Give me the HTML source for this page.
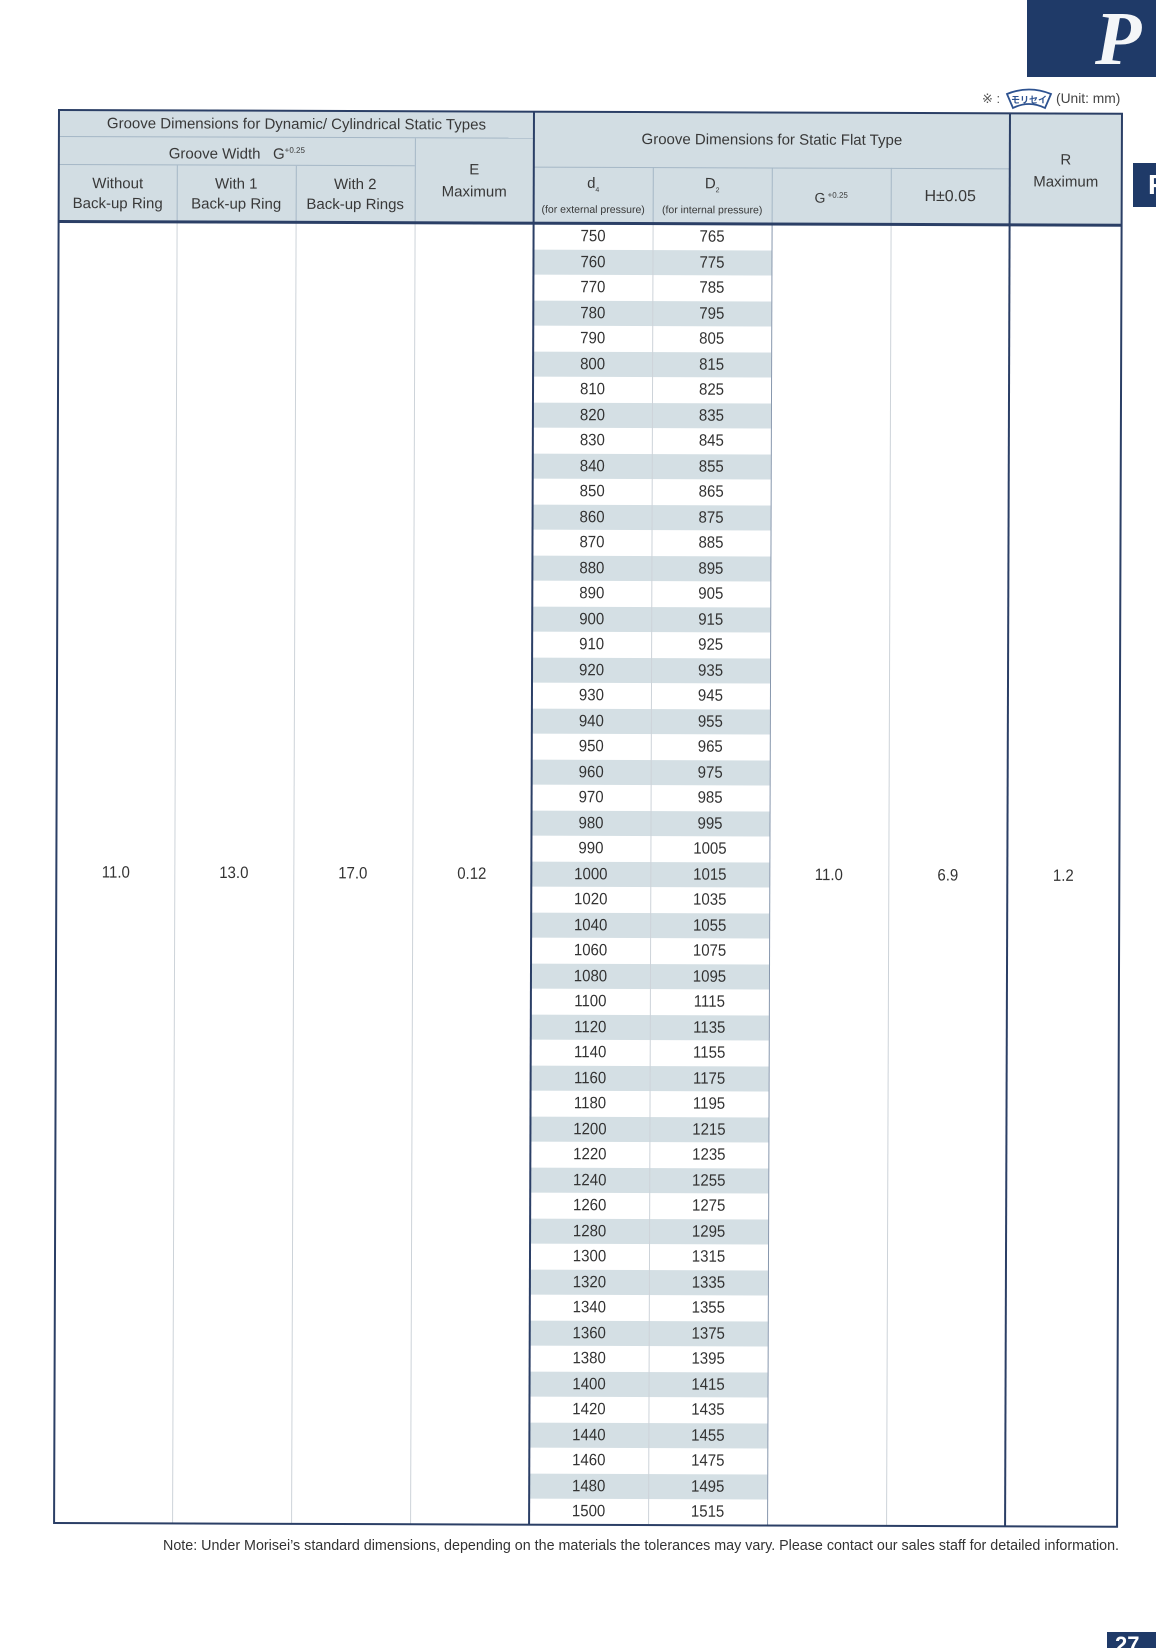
<!DOCTYPE html>
<html><head><meta charset="utf-8">
<style>
html,body{margin:0;padding:0;background:#fff;}
body{width:1156px;height:1648px;position:relative;overflow:hidden;font-family:"Liberation Sans",Arial,sans-serif;color:#353535;}
.a{position:absolute;}
#t{position:absolute;left:0;top:0;width:1156px;height:1648px;transform-origin:59px 110px;transform:rotate(0.2deg);}
.hc{position:absolute;display:flex;flex-direction:column;align-items:center;justify-content:center;text-align:center;font-size:15px;line-height:21px;color:#383838;}
.ln{position:absolute;}
.lh{background:#a5b7c6;}
.nv{background:#2b3f66;}
.lg{background:#cdd3d9;}
.r{position:absolute;left:534px;width:238px;height:25.5px;display:flex;font-size:15px;line-height:26px;color:#333;}
.r span{width:119px;text-align:center;display:block;transform:scaleY(1.1);}
.s{background:#d4dfe4;}
.v{position:absolute;font-size:15px;color:#333;width:119px;text-align:center;top:863px;line-height:20px;transform:scaleY(1.1);}
sub,sup{font-size:8px;}
</style></head><body>

<!-- Top right P box -->
<div class="a" style="left:1027px;top:0;width:129px;height:77px;background:#1f3a68;"></div>
<div class="a" style="left:1095px;top:-6px;font-family:'Liberation Serif',serif;font-style:italic;font-weight:bold;font-size:76px;line-height:90px;color:#f4f6f8;">P</div>

<!-- side tab -->
<div class="a" style="left:1133px;top:163px;width:23px;height:44px;background:#1f3a68;overflow:hidden;">
  <div style="position:absolute;left:15px;top:8px;font-weight:bold;font-size:28px;line-height:28px;color:#fff;">P</div>
</div>

<!-- unit label -->
<div class="a" style="left:982px;top:90px;font-size:13px;line-height:18px;color:#555;white-space:nowrap;">※ :</div>
<svg class="a" style="left:1005px;top:88px;" width="48" height="22" viewBox="0 0 48 22">
  <path d="M2,6 Q24,-3 46,6 L40,20 Q24,12 8,20 Z" fill="#fff" stroke="#2d5290" stroke-width="1.8"/>
  <text x="24" y="15" font-size="9" text-anchor="middle" fill="#2d5290" font-family="'Noto Sans CJK JP',sans-serif" font-weight="bold">モリセイ</text>
</svg>
<div class="a" style="left:1056px;top:90px;font-size:13.8px;line-height:18px;color:#444;white-space:nowrap;">(Unit: mm)</div>

<div id="t">
  <!-- header background -->
  <div class="a" style="left:59px;top:110px;width:1063px;height:112px;background:#d2dde3;"></div>

  <!-- data rows -->
  <div class="r" style="top:222px"><span>750</span><span>765</span></div>
  <div class="r s" style="top:247.5px"><span>760</span><span>775</span></div>
  <div class="r" style="top:273px"><span>770</span><span>785</span></div>
  <div class="r s" style="top:298.5px"><span>780</span><span>795</span></div>
  <div class="r" style="top:324px"><span>790</span><span>805</span></div>
  <div class="r s" style="top:349.5px"><span>800</span><span>815</span></div>
  <div class="r" style="top:375px"><span>810</span><span>825</span></div>
  <div class="r s" style="top:400.5px"><span>820</span><span>835</span></div>
  <div class="r" style="top:426px"><span>830</span><span>845</span></div>
  <div class="r s" style="top:451.5px"><span>840</span><span>855</span></div>
  <div class="r" style="top:477px"><span>850</span><span>865</span></div>
  <div class="r s" style="top:502.5px"><span>860</span><span>875</span></div>
  <div class="r" style="top:528px"><span>870</span><span>885</span></div>
  <div class="r s" style="top:553.5px"><span>880</span><span>895</span></div>
  <div class="r" style="top:579px"><span>890</span><span>905</span></div>
  <div class="r s" style="top:604.5px"><span>900</span><span>915</span></div>
  <div class="r" style="top:630px"><span>910</span><span>925</span></div>
  <div class="r s" style="top:655.5px"><span>920</span><span>935</span></div>
  <div class="r" style="top:681px"><span>930</span><span>945</span></div>
  <div class="r s" style="top:706.5px"><span>940</span><span>955</span></div>
  <div class="r" style="top:732px"><span>950</span><span>965</span></div>
  <div class="r s" style="top:757.5px"><span>960</span><span>975</span></div>
  <div class="r" style="top:783px"><span>970</span><span>985</span></div>
  <div class="r s" style="top:808.5px"><span>980</span><span>995</span></div>
  <div class="r" style="top:834px"><span>990</span><span>1005</span></div>
  <div class="r s" style="top:859.5px"><span>1000</span><span>1015</span></div>
  <div class="r" style="top:885px"><span>1020</span><span>1035</span></div>
  <div class="r s" style="top:910.5px"><span>1040</span><span>1055</span></div>
  <div class="r" style="top:936px"><span>1060</span><span>1075</span></div>
  <div class="r s" style="top:961.5px"><span>1080</span><span>1095</span></div>
  <div class="r" style="top:987px"><span>1100</span><span>1115</span></div>
  <div class="r s" style="top:1012.5px"><span>1120</span><span>1135</span></div>
  <div class="r" style="top:1038px"><span>1140</span><span>1155</span></div>
  <div class="r s" style="top:1063.5px"><span>1160</span><span>1175</span></div>
  <div class="r" style="top:1089px"><span>1180</span><span>1195</span></div>
  <div class="r s" style="top:1114.5px"><span>1200</span><span>1215</span></div>
  <div class="r" style="top:1140px"><span>1220</span><span>1235</span></div>
  <div class="r s" style="top:1165.5px"><span>1240</span><span>1255</span></div>
  <div class="r" style="top:1191px"><span>1260</span><span>1275</span></div>
  <div class="r s" style="top:1216.5px"><span>1280</span><span>1295</span></div>
  <div class="r" style="top:1242px"><span>1300</span><span>1315</span></div>
  <div class="r s" style="top:1267.5px"><span>1320</span><span>1335</span></div>
  <div class="r" style="top:1293px"><span>1340</span><span>1355</span></div>
  <div class="r s" style="top:1318.5px"><span>1360</span><span>1375</span></div>
  <div class="r" style="top:1344px"><span>1380</span><span>1395</span></div>
  <div class="r s" style="top:1369.5px"><span>1400</span><span>1415</span></div>
  <div class="r" style="top:1395px"><span>1420</span><span>1435</span></div>
  <div class="r s" style="top:1420.5px"><span>1440</span><span>1455</span></div>
  <div class="r" style="top:1446px"><span>1460</span><span>1475</span></div>
  <div class="r s" style="top:1471.5px"><span>1480</span><span>1495</span></div>
  <div class="r" style="top:1497px"><span>1500</span><span>1515</span></div>

  <!-- header light lines -->
  <div class="ln lh" style="left:59px;top:136px;width:475px;height:1px;"></div>
  <div class="ln lh" style="left:59px;top:164px;width:356px;height:1px;"></div>
  <div class="ln lh" style="left:534px;top:165px;width:476px;height:1px;"></div>
  <div class="ln lh" style="left:177px;top:165px;width:1px;height:57px;"></div>
  <div class="ln lh" style="left:296px;top:165px;width:1px;height:57px;"></div>
  <div class="ln lh" style="left:415px;top:137px;width:1px;height:85px;"></div>
  <div class="ln lh" style="left:653px;top:165px;width:1px;height:57px;"></div>
  <div class="ln lh" style="left:772px;top:165px;width:1px;height:57px;"></div>
  <div class="ln lh" style="left:891px;top:165px;width:1px;height:57px;"></div>

  <!-- body lines -->
  <div class="ln lg" style="left:177px;top:222px;width:1px;height:1301px;"></div>
  <div class="ln lg" style="left:296px;top:222px;width:1px;height:1301px;"></div>
  <div class="ln lg" style="left:415px;top:222px;width:1px;height:1301px;"></div>
  <div class="ln lg" style="left:653px;top:222px;width:1px;height:1301px;"></div>
  <div class="ln" style="left:772px;top:222px;width:1px;height:1301px;background:#8797ad;"></div>
  <div class="ln lg" style="left:891px;top:222px;width:1px;height:1301px;"></div>

  <!-- navy lines -->
  <div class="ln nv" style="left:59px;top:220px;width:1063px;height:3px;"></div>
  <div class="ln nv" style="left:533px;top:110px;width:2px;height:1413px;"></div>
  <div class="ln nv" style="left:1009px;top:110px;width:2px;height:1413px;"></div>
  <div class="a" style="left:58px;top:109px;width:1065px;height:1415px;border:2px solid #2b3f66;box-sizing:border-box;"></div>

  <!-- header text -->
  <div class="hc" style="left:59px;top:110px;width:475px;height:27px;">Groove Dimensions for Dynamic/ Cylindrical Static Types</div>
  <div class="hc" style="left:59px;top:137px;width:356px;height:28px;"><div style="white-space:nowrap;">Groove Width&nbsp;&nbsp;&nbsp;G<sup style="font-size:8px;vertical-align:6px;">+0.25</sup></div></div>
  <div class="hc" style="left:59px;top:165px;width:118px;height:57px;line-height:20px;"><div>Without</div><div>Back-up Ring</div></div>
  <div class="hc" style="left:177px;top:165px;width:119px;height:57px;line-height:20px;"><div>With 1</div><div>Back-up Ring</div></div>
  <div class="hc" style="left:296px;top:165px;width:119px;height:57px;line-height:20px;"><div>With 2</div><div>Back-up Rings</div></div>
  <div class="hc" style="left:415px;top:137px;width:119px;height:85px;line-height:22px;"><div>E</div><div>Maximum</div></div>
  <div class="hc" style="left:534px;top:110px;width:476px;height:55px;">Groove Dimensions for Static Flat Type</div>
  <div class="hc" style="left:534px;top:165px;width:119px;height:57px;"><div style="line-height:22px;">d<sub style="font-size:7px;vertical-align:-4px;">4</sub></div><div style="font-size:10.5px;line-height:16px;white-space:nowrap;">(for external pressure)</div></div>
  <div class="hc" style="left:653px;top:165px;width:119px;height:57px;"><div style="line-height:22px;">D<sub style="font-size:7px;vertical-align:-4px;">2</sub></div><div style="font-size:10.5px;line-height:16px;white-space:nowrap;">(for internal pressure)</div></div>
  <div class="hc" style="left:772px;top:165px;width:119px;height:57px;"><div style="white-space:nowrap;font-size:14px;">G<sup style="font-size:8px;vertical-align:5px;"> +0.25</sup></div></div>
  <div class="hc" style="left:891px;top:165px;width:119px;height:57px;font-size:16px;">H±0.05</div>
  <div class="hc" style="left:1010px;top:110px;width:112px;height:112px;line-height:22px;"><div style="margin-top:4px;">R</div><div>Maximum</div></div>

  <!-- single values -->
  <div class="v" style="left:59px;">11.0</div>
  <div class="v" style="left:177px;">13.0</div>
  <div class="v" style="left:296px;">17.0</div>
  <div class="v" style="left:415px;">0.12</div>
  <div class="v" style="left:772px;">11.0</div>
  <div class="v" style="left:891px;">6.9</div>
  <div class="v" style="left:1010px;width:112px;">1.2</div>
</div>

<!-- note -->
<div class="a" style="left:163px;top:1537px;font-size:14.3px;line-height:18px;color:#333;white-space:nowrap;">Note: Under Morisei’s standard dimensions, depending on the materials the tolerances may vary. Please contact our sales staff for detailed information.</div>

<!-- page number -->
<div class="a" style="left:1107px;top:1632px;width:49px;height:16px;background:#1f3a68;overflow:hidden;">
  <div style="position:absolute;left:8px;top:2px;font-weight:bold;font-size:22px;line-height:22px;color:#fff;">27</div>
</div>

</body></html>
